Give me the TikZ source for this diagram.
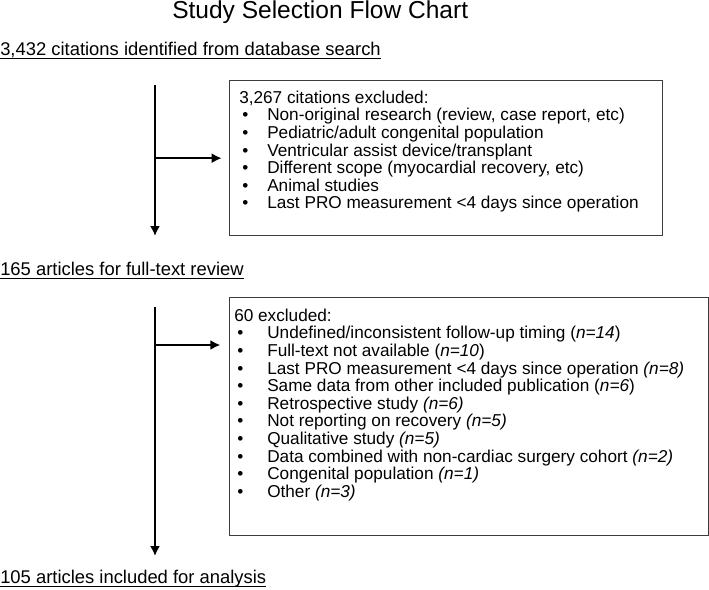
\documentclass[tikz,border=0pt]{standalone}
\usepackage{fontspec}
\setmainfont{Liberation Sans}
\usetikzlibrary{arrows.meta}

% bullet line of an exclusion list
\newcommand{\bitem}[2][21pt]{\makebox[#1][l]{\hspace{2.25pt}\textbullet}#2}

\begin{document}
\begin{tikzpicture}[x=0.75pt,y=0.75pt,yscale=-1,xscale=1,
  heading/.style={anchor=base west,inner sep=0pt,font=\fontsize{13.8pt}{16pt}\selectfont},
  exclbox/.style={draw={rgb, 255:red, 60; green, 60; blue, 60},line width=1pt,anchor=north west,inner sep=0pt},
  boxtext/.style={anchor=north west,inner sep=0pt,align=left,font=\fontsize{12.9pt}{13.2pt}\selectfont},
  flow/.style={line width=1.4pt,-{Latex[length=7.5pt,width=7.5pt]}},
  uline/.style={line width=0.8pt}]
\useasboundingbox (0,0) rectangle (709,589);

% Title
\node (title) at (172,18) [anchor=base west,inner sep=0pt,font=\fontsize{18.4pt}{20pt}\selectfont] {Study Selection Flow Chart};

% Text Node
\node (found) at (0,55) [heading] {3,432 citations identified from database search};
% Text Node
\node (fulltext) at (0,275) [heading] {165 articles for full-text review};
% Text Node
\node (included) at (0,583) [heading] {105 articles included for analysis};

% underlines
\draw [uline] ([yshift=2.5pt]found.base west) -- ([yshift=2.5pt]found.base east);
\draw [uline] ([yshift=2.5pt]fulltext.base west) -- ([yshift=2.5pt]fulltext.base east);
\draw [uline] ([yshift=2.5pt]included.base west) -- ([yshift=2.5pt]included.base east);

%Shape: Rectangle
\node (excl1) at (229,80) [exclbox,minimum width=324.75pt,minimum height=116.25pt] {};
%Shape: Rectangle
\node (excl2) at (229,297) [exclbox,minimum width=359.25pt,minimum height=178.5pt] {};

% Text Node
\node (excl1txt) at (239,90.5) [boxtext] {3,267 citations excluded:\\
\bitem{Non-original research (review, case report, etc)}\\
\bitem{Pediatric/adult congenital population}\\
\bitem{Ventricular assist device/transplant}\\
\bitem{Different scope (myocardial recovery, etc)}\\
\bitem{Animal studies}\\
\bitem{Last PRO measurement <4 days since operation}};
% Text Node
\node (excl2txt) at (234,308.5) [boxtext] {60 excluded:\\
\bitem[24.75pt]{Undefined/inconsistent follow-up timing (\textit{n=14})}\\
\bitem[24.75pt]{Full-text not available (\textit{n=10})}\\
\bitem[24.75pt]{Last PRO measurement <4 days since operation \textit{(n=8)}}\\
\bitem[24.75pt]{Same data from other included publication (\textit{n=6})}\\
\bitem[24.75pt]{Retrospective study \textit{(n=6)}}\\
\bitem[24.75pt]{Not reporting on recovery \textit{(n=5)}}\\
\bitem[24.75pt]{Qualitative study \textit{(n=5)}}\\
\bitem[24.75pt]{Data combined with non-cardiac surgery cohort \textit{(n=2)}}\\
\bitem[24.75pt]{Congenital population \textit{(n=1)}}\\
\bitem[24.75pt]{Other \textit{(n=3)}}};

% Arrows
\coordinate (top1) at (155,85);
\coordinate (end1) at (155,236);
\coordinate (top2) at (155,307);
\coordinate (end2) at (155,556);
\coordinate (side2) at (155,345);
\draw [flow] (top1) -- (end1);
\draw [flow] (top1 |- excl1.west) -- ([xshift=-5.5pt]excl1.west);
\draw [flow] (top2) -- (end2);
\draw [flow] (side2) -- ([xshift=-6.5pt]side2 -| excl2.west);

\end{tikzpicture}
\end{document}
